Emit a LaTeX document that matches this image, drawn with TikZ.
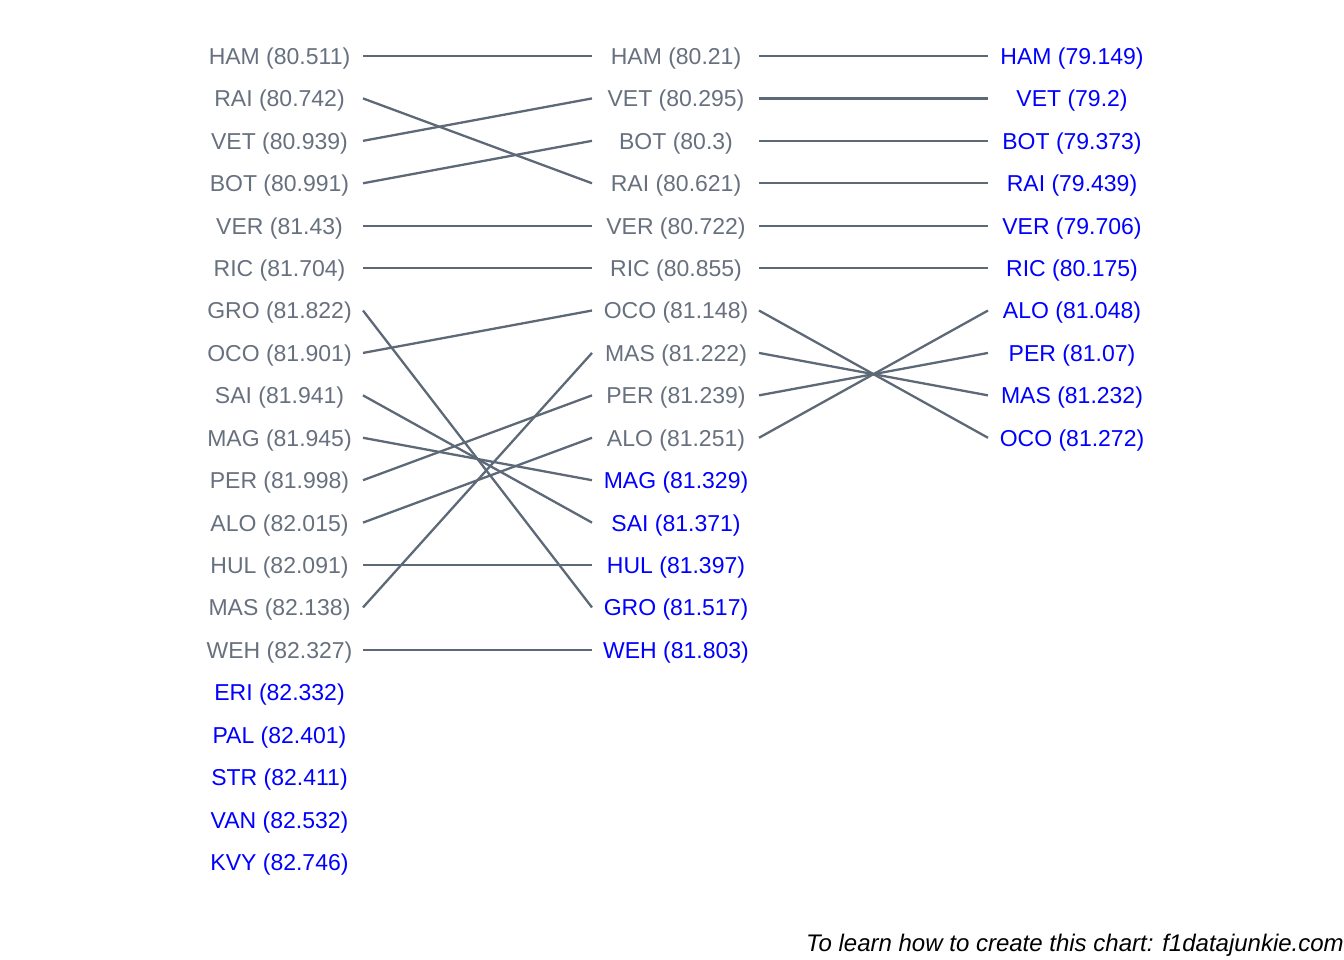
\documentclass[tikz,border=0pt]{standalone}
\usepackage{fontspec}
\setmainfont{Liberation Sans}
\definecolor{slate}{HTML}{5E6978}
\definecolor{lab}{HTML}{67707E}
\begin{document}
\begin{tikzpicture}[x=1pt,y=-1pt,
  lbl/.style={font=\fontsize{23}{27}\selectfont, inner sep=0pt, anchor=center},
  conn/.style={draw=slate, line width=2.3pt}]
\useasboundingbox (0,0) rectangle (1344,960);
% left column
\foreach \t [count=\i from 0] in {HAM (80.511),RAI (80.742),VET (80.939),BOT (80.991),VER (81.43),RIC (81.704),GRO (81.822),OCO (81.901),SAI (81.941),MAG (81.945),PER (81.998),ALO (82.015),HUL (82.091),MAS (82.138),WEH (82.327),ERI (82.332),PAL (82.401),STR (82.411),VAN (82.532),KVY (82.746)}{
  \pgfmathsetmacro\yy{56+42.42*\i}
  \pgfmathsetmacro\ty{\yy+2.5}
  \ifnum\i<15 \def\cc{lab}\else\def\cc{blue}\fi
  \node[lbl, text=\cc] (L\i) at (279.5,\ty) {\t};
  \coordinate (la\i) at (363,\yy);
}
% middle column
\foreach \t [count=\i from 0] in {HAM (80.21),VET (80.295),BOT (80.3),RAI (80.621),VER (80.722),RIC (80.855),OCO (81.148),MAS (81.222),PER (81.239),ALO (81.251),MAG (81.329),SAI (81.371),HUL (81.397),GRO (81.517),WEH (81.803)}{
  \pgfmathsetmacro\yy{56+42.42*\i}
  \pgfmathsetmacro\ty{\yy+2.5}
  \ifnum\i<10 \def\cc{lab}\else\def\cc{blue}\fi
  \node[lbl, text=\cc] (M\i) at (676,\ty) {\t};
  \coordinate (ma\i) at (592,\yy);
  \coordinate (mb\i) at (759,\yy);
}
% right column
\foreach \t [count=\i from 0] in {HAM (79.149),VET (79.2),BOT (79.373),RAI (79.439),VER (79.706),RIC (80.175),ALO (81.048),PER (81.07),MAS (81.232),OCO (81.272)}{
  \pgfmathsetmacro\yy{56+42.42*\i}
  \pgfmathsetmacro\ty{\yy+2.5}
  \node[lbl, text=blue] (R\i) at (1072,\ty) {\t};
  \coordinate (ra\i) at (988,\yy);
}
% connectors
\foreach \a/\b in {0/0,1/3,2/1,3/2,4/4,5/5,6/13,7/6,8/11,9/10,10/8,11/9,12/12,13/7,14/14}
  \draw[conn] (la\a) -- (ma\b);
\foreach \a/\b in {0/0,1/1,2/2,3/3,4/4,5/5,6/9,7/8,8/7,9/6}
  \draw[conn] (mb\a) -- (ra\b);
\node[anchor=base east, inner sep=0pt, font=\fontsize{24}{28}\selectfont\itshape] (cap) at (1344,951) {To learn how to create this chart: f1datajunkie.com};
\end{tikzpicture}
\end{document}
